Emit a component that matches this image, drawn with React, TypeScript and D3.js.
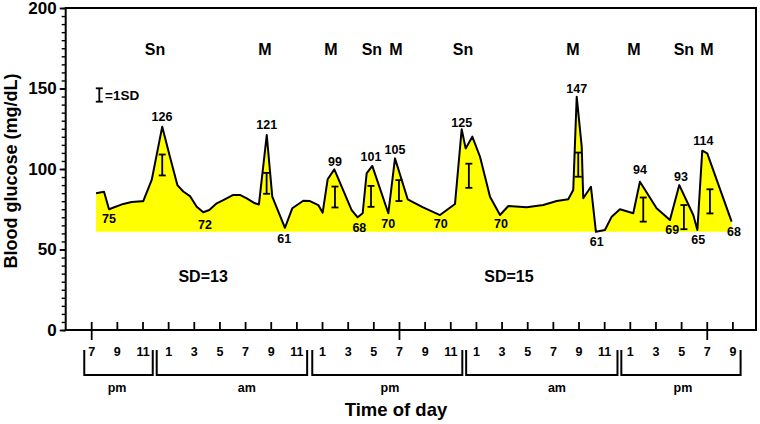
import * as d3 from 'd3'
import { useEffect, useRef } from 'react'

const WIDTH = 760
const HEIGHT = 424
const FONT = 'Arial, "Liberation Sans", Helvetica, sans-serif'
const BASE = 61

// hours counted from 7 pm of the first evening
const hours = [
  0.34, 0.96, 1.35, 2.46, 3.12, 3.9, 4.02, 4.68, 5.5, 6.1, 6.68, 7.14, 7.66, 8.19, 8.7, 9.17,
  9.75, 10.26, 11.04, 11.56, 12.09, 12.73, 13.04, 13.65, 14.08, 15.07, 15.64, 16.5, 17.02,
  17.67, 18.01, 18.4, 18.92, 20.27, 20.74, 21.13, 21.44, 21.88, 23.13, 23.65, 24.64, 25.8,
  27.16, 28.33, 28.85, 29.16, 29.68, 30.28, 31.06, 31.84, 32.49, 33.92, 35.21, 36.26, 37.16,
  37.55, 37.82, 38.21, 38.33, 38.93, 39.32, 40.02, 40.55, 41.19, 42.23, 42.75, 44.05, 45.09,
  45.82, 46.91, 47.23, 47.61, 48.0, 49.9,
]
const glucose = [
  84.9, 85.9, 75, 78.3, 79.5, 80, 80, 93.2, 126.3, 107.6, 90, 86, 83.2, 76.6, 73.1, 74.5, 78.7,
  80.7, 83.9, 83.9, 81.8, 78.7, 78, 121.1, 82.8, 63.5, 75.6, 80.3, 80.1, 77.6, 72.9, 93.6, 99.8,
  74.5, 70, 72.5, 97.3, 101.9, 72.5, 106.6, 81.2, 76.3, 71.4, 78.3, 124.7, 112.8, 120.1, 107.6,
  82.8, 71.4, 77, 76.2, 77.6, 80.1, 81.2, 87, 144.9, 113.9, 81.8, 89, 61, 62.1, 70.4, 75, 72.5,
  92.1, 75.6, 68.3, 90, 71.4, 62.1, 111.4, 109.7, 67.3,
]

const sdHours = [5.5, 13.64, 18.97, 21.78, 23.96, 29.41, 37.94, 43.01, 46.18, 48.21]
const sdCenters = [102.5, 91.1, 82.6, 83, 86.6, 95.8, 102.7, 74.8, 70.1, 79.9]
const sdSizes = [13, 13, 13, 13, 13, 15, 15, 15, 15, 15]

const peakLabels = ['126', '75', '72', '121', '61', '99', '101', '105', '68', '70', '70', '125', '70', '147', '61', '94', '93', '114', '69', '65', '68']
const peakHours = [5.48, 1.35, 8.83, 13.65, 15.02, 18.97, 21.78, 23.65, 20.87, 23.13, 27.21, 28.85, 31.91, 37.82, 39.38, 42.75, 45.95, 47.69, 45.27, 47.3, 50.08]
const peakLevels = [132.3, 68.9, 65.2, 127.3, 57, 104.5, 107.6, 112.2, 63.8, 66.3, 66.3, 128.8, 66.3, 150.1, 54.8, 99.4, 95.2, 117.6, 62.1, 55.9, 61.1]

const meals = ['Sn', 'M', 'M', 'Sn', 'M', 'Sn', 'M', 'M', 'Sn', 'M']
const mealHours = [4.94, 13.5, 18.66, 21.85, 23.73, 28.95, 37.53, 42.28, 46.18, 47.97]

const sdTexts = ['SD=13', 'SD=15']
const sdTextHours = [8.69, 32.54]

const tickHours = d3.range(0, 51, 2)
const tickLabels = ['7', '9', '11', '1', '3', '5', '7', '9', '11', '1', '3', '5', '7', '9', '11', '1', '3', '5', '7', '9', '11', '1', '3', '5', '7', '9']
const dayTicks = [0, 24, 48]

const periods = ['pm', 'am', 'pm', 'am', 'pm']
const periodStart = [-0.58, 5.07, 17.2, 29.2, 41.3]
const periodEnd = [4.76, 16.8, 28.9, 41.0, 50.6]
const periodLabelHours = [1.98, 12.1, 23.26, 36.28, 46.1]

function drawChart(node: SVGSVGElement) {
  const svg = d3.select(node)
  svg.selectAll('*').remove()

  const x = d3.scaleLinear([0, 50], [91.7, 732.9])
  const y = d3.scaleLinear([0, 200], [330, 8])
  const left = 65.7
  const right = 756
  const points = hours.map((h, i) => [h, glucose[i]] as [number, number])

  const area = d3
    .area<[number, number]>()
    .x((d) => x(d[0]))
    .y0(y(BASE))
    .y1((d) => y(d[1]))
  svg.append('path').attr('d', area(points)).attr('fill', '#ffff00')

  const line = d3
    .line<[number, number]>()
    .x((d) => x(d[0]))
    .y((d) => y(d[1]))
  svg
    .append('path')
    .attr('d', line(points))
    .attr('fill', 'none')
    .attr('stroke', '#000')
    .attr('stroke-width', 2)
    .attr('stroke-linejoin', 'round')

  // 1 SD bars
  const bars = svg.append('g').attr('stroke', '#000').attr('stroke-width', 1.8)
  sdHours.forEach((h, i) => {
    const top = y(sdCenters[i] + sdSizes[i] / 2)
    const bot = y(sdCenters[i] - sdSizes[i] / 2)
    const cx = x(h)
    bars.append('line').attr('x1', cx).attr('x2', cx).attr('y1', top).attr('y2', bot)
    bars.append('line').attr('x1', cx - 3.5).attr('x2', cx + 3.5).attr('y1', top).attr('y2', top)
    bars.append('line').attr('x1', cx - 3.5).attr('x2', cx + 3.5).attr('y1', bot).attr('y2', bot)
  })

  // legend bar
  const lx = 99.3
  bars.append('line').attr('x1', lx).attr('x2', lx).attr('y1', 88.3).attr('y2', 101.7)
  bars.append('line').attr('x1', lx - 3.5).attr('x2', lx + 3.5).attr('y1', 88.3).attr('y2', 88.3)
  bars.append('line').attr('x1', lx - 3.5).attr('x2', lx + 3.5).attr('y1', 101.7).attr('y2', 101.7)
  svg
    .append('text')
    .attr('x', 105)
    .attr('y', 95)
    .attr('dy', '0.35em')
    .attr('font-size', 13.5)
    .text('=1SD')

  const txt = svg.append('g').attr('text-anchor', 'middle')
  peakLabels.forEach((t, i) => {
    txt
      .append('text')
      .attr('x', x(peakHours[i]))
      .attr('y', y(peakLevels[i]))
      .attr('dy', '0.35em')
      .attr('font-size', 12.5)
      .text(t)
  })
  meals.forEach((t, i) => {
    txt
      .append('text')
      .attr('x', x(mealHours[i]))
      .attr('y', y(174.5))
      .attr('dy', '0.35em')
      .attr('font-size', 16)
      .text(t)
  })
  sdTexts.forEach((t, i) => {
    txt
      .append('text')
      .attr('x', x(sdTextHours[i]))
      .attr('y', y(33))
      .attr('dy', '0.35em')
      .attr('font-size', 16)
      .text(t)
  })

  // frame
  svg
    .append('rect')
    .attr('x', left)
    .attr('y', y(200))
    .attr('width', right - left)
    .attr('height', y(0) - y(200))
    .attr('fill', 'none')
    .attr('stroke', '#000')
    .attr('stroke-width', 2)

  // y axis
  const yMinor = svg
    .append('g')
    .attr('transform', `translate(${left},0)`)
    .call(d3.axisLeft(y).tickValues(d3.range(0, 201, 5)).tickSize(4).tickFormat(() => ''))
  yMinor.select('.domain').remove()
  yMinor.selectAll('line').attr('stroke-width', 1.4)
  const yMajor = svg
    .append('g')
    .attr('transform', `translate(${left},0)`)
    .call(d3.axisLeft(y).tickValues([0, 50, 100, 150, 200]).tickSize(6).tickPadding(3))
  yMajor.select('.domain').remove()
  yMajor.selectAll('line').attr('stroke-width', 1.8)
  yMajor
    .selectAll('text')
    .attr('font-size', 17)
    .attr('font-family', FONT)
    .attr('font-weight', 'bold')

  // x axis ticks (point up into the plot), day markers cross the axis
  const xt = svg.append('g').attr('stroke', '#000').attr('stroke-width', 1.8)
  tickHours.forEach((h) => {
    const big = dayTicks.includes(h)
    xt.append('line')
      .attr('x1', x(h))
      .attr('x2', x(h))
      .attr('y1', y(0) - 8)
      .attr('y2', big ? y(0) + 10 : y(0))
  })
  tickHours.forEach((h, i) => {
    txt
      .append('text')
      .attr('x', x(h))
      .attr('y', 352)
      .attr('dy', '0.35em')
      .attr('font-size', 12.5)
      .text(tickLabels[i])
  })

  // am / pm brackets
  periods.forEach((p, i) => {
    const a = x(periodStart[i])
    const b = x(periodEnd[i])
    xt.append('path')
      .attr('d', `M${a},350V375H${b}V350`)
      .attr('fill', 'none')
      .attr('stroke-width', 2)
    txt
      .append('text')
      .attr('x', x(periodLabelHours[i]))
      .attr('y', 388)
      .attr('dy', '0.35em')
      .attr('font-size', 12.5)
      .text(p)
  })

  txt
    .append('text')
    .attr('x', 396)
    .attr('y', 410)
    .attr('dy', '0.35em')
    .attr('font-size', 18.5)
    .text('Time of day')

  svg
    .append('text')
    .attr('transform', 'translate(16.5,171) rotate(-90)')
    .attr('text-anchor', 'middle')
    .attr('font-size', 18)
    .text('Blood glucose (mg/dL)')
}

export default function App() {
  const ref = useRef<SVGSVGElement>(null)
  useEffect(() => {
    if (ref.current) drawChart(ref.current)
  }, [])
  return (
    <svg
      ref={ref}
      width={WIDTH}
      height={HEIGHT}
      viewBox={`0 0 ${WIDTH} ${HEIGHT}`}
      style={{ position: 'absolute', left: 0, top: 0, background: '#fff' }}
      fontFamily={FONT}
      fontWeight="bold"
    />
  )
}
